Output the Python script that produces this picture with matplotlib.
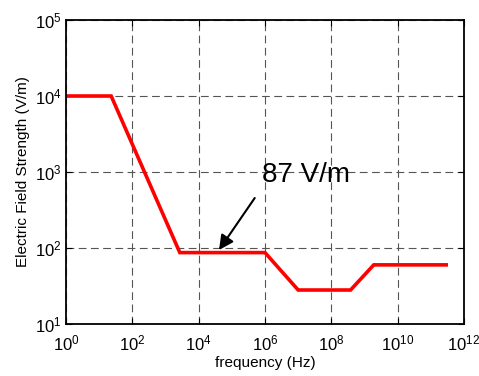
import numpy as np
import matplotlib
matplotlib.use("Agg")
import matplotlib.pyplot as plt
from matplotlib.ticker import NullLocator

# breakpoints of the limit curve (Hz, V/m)
freq = [1, 23, 2.7e3, 1e6, 1e7, 3.8e8, 1.9e9, 2.9e11]
field = [1e4, 1e4, 87, 87, 28, 28, 60, 60]
xticks = [1e0, 1e2, 1e4, 1e6, 1e8, 1e10, 1e12]
yticks = [1e1, 1e2, 1e3, 1e4, 1e5]

plt.rcParams.update({"font.family": "Liberation Sans", "font.size": 12,
                     "mathtext.fontset": "custom", "mathtext.rm": "Liberation Sans"})
fig = plt.figure(figsize=(4.79, 3.76), dpi=100)
ax = fig.add_axes([0.1378, 0.1383, 0.8309, 0.8085])
ax.plot(freq, field, color="red", lw=2.6, solid_joinstyle="miter")
ax.set_xscale("log"); ax.set_yscale("log")
ax.set_xlim(1, 1e12); ax.set_ylim(10, 1e5)
ax.set_xticks(xticks); ax.set_yticks(yticks)
ax.xaxis.set_minor_locator(NullLocator()); ax.yaxis.set_minor_locator(NullLocator())
ax.tick_params(direction="in", length=4, width=0.8, top=True, right=True, labelsize=12)
ax.tick_params(axis="x", pad=7)
ax.tick_params(axis="y", pad=3)
ax.grid(True, color="#555555", ls=(0, (7, 4)), lw=0.8)
for s in ax.spines.values():
    s.set_linewidth(1.3)
ax.set_xlabel("frequency (Hz)", fontsize=11, labelpad=2)
ax.set_ylabel("Electric Field Strength (V/m)", fontsize=11, labelpad=4)
ax.text(8e5, 900, "87 V/m", fontsize=20, ha="left", va="center")
ax.annotate("", xy=(4.1e4, 94), xytext=(4.9e5, 455),
            arrowprops=dict(arrowstyle="-|>", color="black", lw=1.5,
                            mutation_scale=22, shrinkA=0, shrinkB=0))
fig.savefig("out.png")
